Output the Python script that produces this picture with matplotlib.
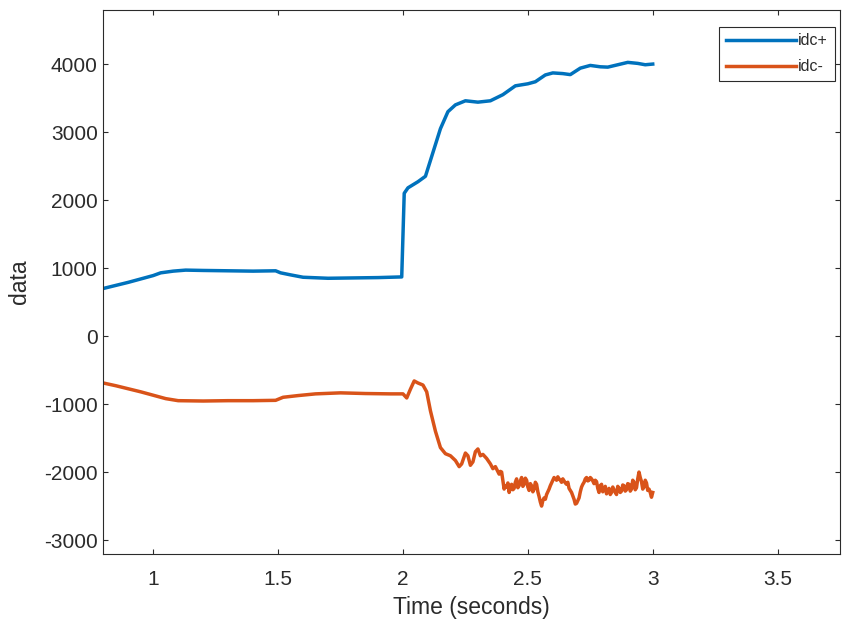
import matplotlib
matplotlib.use("Agg")
import matplotlib.pyplot as plt

# ---- data ----
t_pos = [0.80, 0.85, 0.90, 0.95, 1.00, 1.03, 1.08, 1.13, 1.20, 1.30, 1.40, 1.49,
         1.51, 1.55, 1.60, 1.70, 1.80, 1.90, 1.995, 2.005, 2.02, 2.06, 2.09, 2.12,
         2.15, 2.18, 2.21, 2.25, 2.30, 2.35, 2.40, 2.45, 2.50, 2.53, 2.57, 2.60,
         2.64, 2.67, 2.71, 2.75, 2.79, 2.82, 2.86, 2.90, 2.94, 2.97, 3.00]
idc_pos = [700, 745, 790, 840, 890, 930, 955, 970, 965, 960, 955, 960,
           930, 900, 865, 850, 855, 860, 870, 2100, 2180, 2270, 2350, 2700,
           3050, 3300, 3400, 3460, 3440, 3460, 3550, 3680, 3710, 3740, 3840, 3870,
           3860, 3845, 3940, 3980, 3960, 3955, 3990, 4025, 4010, 3990, 4000]

t_neg = [0.80, 0.85, 0.90, 0.95, 1.00, 1.05, 1.10, 1.20, 1.30, 1.40, 1.49, 1.52,
         1.58, 1.65, 1.75, 1.85, 1.95, 2.00, 2.015, 2.03, 2.045, 2.06, 2.08, 2.095,
         2.11, 2.13, 2.15, 2.17, 2.19, 2.21, 2.225, 2.235, 2.25, 2.26, 2.27, 2.28,
         2.29, 2.30, 2.31, 2.32, 2.335, 2.35, 2.36, 2.37,
         2.385, 2.39, 2.395, 2.40, 2.405, 2.41, 2.415, 2.42, 2.425, 2.43,
         2.435, 2.44, 2.445, 2.45, 2.455, 2.46, 2.465, 2.47, 2.475, 2.48,
         2.485, 2.49, 2.495, 2.50, 2.505, 2.51, 2.515, 2.52, 2.525, 2.53,
         2.535, 2.54, 2.545, 2.55, 2.555, 2.56, 2.565, 2.57, 2.575, 2.58,
         2.585, 2.59, 2.595, 2.60, 2.605, 2.61, 2.615, 2.62, 2.625, 2.63,
         2.635, 2.64, 2.645, 2.65, 2.655, 2.66, 2.665, 2.67, 2.675, 2.68,
         2.685, 2.69, 2.695, 2.70, 2.705, 2.71, 2.715, 2.72, 2.725, 2.73,
         2.735, 2.74, 2.745, 2.75, 2.755, 2.76, 2.765, 2.77, 2.775, 2.78,
         2.785, 2.79, 2.795, 2.80, 2.805, 2.81, 2.815, 2.82, 2.825, 2.83,
         2.835, 2.84, 2.845, 2.85, 2.855, 2.86, 2.865, 2.87, 2.875, 2.88,
         2.885, 2.89, 2.895, 2.90, 2.905, 2.91, 2.915, 2.92, 2.925, 2.93,
         2.935, 2.94, 2.945, 2.95, 2.955, 2.96, 2.965, 2.97, 2.975, 2.98,
         2.985, 2.99, 2.995, 3.00]
idc_neg = [-690, -730, -775, -820, -870, -920, -950, -955, -950, -950, -945, -900,
           -875, -850, -835, -845, -850, -850, -910, -780, -660, -690, -720, -820,
           -1100, -1400, -1640, -1730, -1760, -1830, -1920, -1880, -1720, -1760, -1900, -1850,
           -1700, -1660, -1760, -1740, -1800, -1880, -1950, -1920,
           -2030, -1990, -2000, -2120, -2250, -2200, -2220, -2160, -2300, -2230,
           -2180, -2260, -2240, -2150, -2100, -2230, -2200, -2130, -2080, -2210,
           -2180, -2090, -2120, -2220, -2270, -2170, -2200, -2290, -2250, -2150,
           -2180, -2290, -2360, -2440, -2500, -2420, -2380, -2400, -2330, -2290,
           -2250, -2200, -2160, -2120, -2080, -2100, -2120, -2070, -2100, -2120,
           -2150, -2100, -2130, -2160, -2180, -2150, -2240, -2270, -2300, -2350,
           -2400, -2470, -2460, -2420, -2380, -2290, -2220, -2180, -2150, -2100,
           -2080, -2130, -2120, -2080, -2100, -2130, -2170, -2120, -2140, -2240,
           -2300, -2200, -2180, -2290, -2250, -2210, -2320, -2280, -2240, -2330,
           -2300, -2220, -2260, -2300, -2330, -2210, -2240, -2300, -2280, -2190,
           -2200, -2280, -2260, -2170, -2180, -2280, -2250, -2120, -2150, -2260,
           -2230, -2100, -2000, -2080, -2140, -2250, -2220, -2120, -2160, -2270,
           -2250, -2300, -2370, -2300]

series_labels = ["idc+", "idc-"]
x_ticks = [1, 1.5, 2, 2.5, 3, 3.5]
x_tick_labels = ["1", "1.5", "2", "2.5", "3", "3.5"]
y_ticks = [-3000, -2000, -1000, 0, 1000, 2000, 3000, 4000]
y_tick_labels = ["-3000", "-2000", "-1000", "0", "1000", "2000", "3000", "4000"]

# ---- style ----
plt.rcParams['font.family'] = ['Liberation Sans', 'DejaVu Sans']
plt.rcParams['axes.unicode_minus'] = False
text_c = '#2b2b2b'

fig = plt.figure(figsize=(8.43, 6.24), dpi=100)
ax = fig.add_axes([0.1225, 0.1127, 0.874, 0.8718])

ax.plot(t_pos, idc_pos, color='#0072BD', lw=2.5, label=series_labels[0])
ax.plot(t_neg, idc_neg, color='#D95319', lw=2.5, label=series_labels[1])

ax.set_xlim(0.8, 3.75)
ax.set_ylim(-3200, 4800)
ax.set_xticks(x_ticks)
ax.set_xticklabels(x_tick_labels)
ax.set_yticks(y_ticks)
ax.set_yticklabels(y_tick_labels)

ax.tick_params(direction='in', length=3.5, width=0.8, colors=text_c,
               labelsize=15, top=True, right=True)
ax.tick_params(axis='x', pad=12)
ax.tick_params(axis='y', pad=4)
for s in ax.spines.values():
    s.set_color(text_c)
    s.set_linewidth(0.8)

ax.set_xlabel("Time (seconds)", fontsize=16.5, color=text_c, labelpad=5)
ax.set_ylabel("data", fontsize=16.5, color=text_c, labelpad=9)

leg = ax.legend(loc='upper right', bbox_to_anchor=(0.9925, 0.969), fontsize=11.5,
                handlelength=4.4, handletextpad=0.1, borderpad=0.42,
                labelspacing=0.7, fancybox=False, framealpha=1, borderaxespad=0)
leg.get_frame().set_edgecolor(text_c)
leg.get_frame().set_linewidth(0.8)
for txt in leg.get_texts():
    txt.set_color(text_c)

fig.savefig("out.png", dpi=100)
